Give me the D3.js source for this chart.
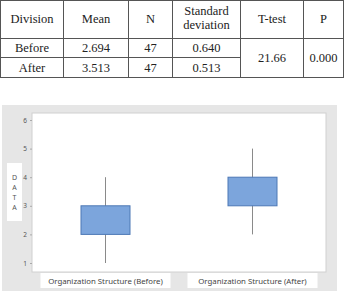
<!DOCTYPE html>
<html>
<head>
<meta charset="utf-8">
<script src="https://cdn.jsdelivr.net/npm/d3@7"></script>
<style>
  body { margin: 0; background: #fff; }
  svg { display: block; }
</style>
</head>
<body>
<div id="chart"></div>
<script>
// table data
const tableHeaders = [["Division"], ["Mean"], ["N"], ["Standard", "deviation"], ["T-test"], ["P"]];
const divisions = ["Before", "After"];
const means = ["2.694", "3.513"];
const counts = ["47", "47"];
const stdDevs = ["0.640", "0.513"];
const tTest = "21.66";
const pValue = "0.000";

// box plot data
const categories = ["Organization Structure (Before)", "Organization Structure (After)"];
const whiskerLow = [1, 2];
const boxLow = [2, 3];
const boxHigh = [3, 4];
const whiskerHigh = [4, 5];
const yTicks = [1, 2, 3, 4, 5, 6];

const serif = "'Liberation Serif', serif";
const sans = "'Noto Sans', 'Open Sans', sans-serif";

const width = 347, height = 293;
const svg = d3.select("#chart").append("svg")
    .attr("width", width)
    .attr("height", height);

// ---- table ----
const colX = [0.5, 63.5, 128.5, 172.5, 240.5, 303.5, 343.5];
const rowY = [0.5, 38.5, 57.5, 77.5];
const tbl = svg.append("g");

const lineColor = "#555";
tbl.append("rect")
    .attr("x", colX[0]).attr("y", rowY[0])
    .attr("width", colX[6] - colX[0]).attr("height", rowY[3] - rowY[0])
    .attr("fill", "none").attr("stroke", lineColor);
colX.slice(1, 6).forEach(x => {
    tbl.append("line").attr("x1", x).attr("x2", x)
        .attr("y1", rowY[0]).attr("y2", rowY[3]).attr("stroke", lineColor);
});
tbl.append("line").attr("x1", colX[0]).attr("x2", colX[6])
    .attr("y1", rowY[1]).attr("y2", rowY[1]).attr("stroke", lineColor);
// row separator stops at the merged T-test / P cells
tbl.append("line").attr("x1", colX[0]).attr("x2", colX[4])
    .attr("y1", rowY[2]).attr("y2", rowY[2]).attr("stroke", lineColor);

const cx = i => (colX[i] + colX[i + 1]) / 2;
const cell = (xx, yy, t) => tbl.append("text")
    .attr("x", xx).attr("y", yy)
    .attr("text-anchor", "middle")
    .style("font-family", serif)
    .style("font-size", "12.5px")
    .attr("fill", "#222")
    .text(t);

tableHeaders.forEach((h, i) => {
    h.forEach((t, j) => cell(cx(i), h.length === 1 ? 23 : 15 + j * 14, t));
});
const rows = divisions.map((d, i) => [d, means[i], counts[i], stdDevs[i]]);
rows.forEach((r, ri) => {
    r.forEach((t, ci) => cell(cx(ci), (rowY[ri + 1] + rowY[ri + 2]) / 2 + 4, t));
});
cell(cx(4), (rowY[1] + rowY[3]) / 2 + 4, tTest);
cell(cx(5), (rowY[1] + rowY[3]) / 2 + 4, pValue);

// ---- box plot ----
const panel = { left: 2, top: 105, right: 337, bottom: 291 };
const plot = { left: 32, top: 113, right: 326, bottom: 272 };

svg.append("rect")
    .attr("x", panel.left).attr("y", panel.top)
    .attr("width", panel.right - panel.left).attr("height", panel.bottom - panel.top)
    .attr("fill", "#e6e6e6");

svg.append("rect")
    .attr("x", plot.left).attr("y", plot.top)
    .attr("width", plot.right - plot.left).attr("height", plot.bottom - plot.top)
    .attr("fill", "#fff").attr("stroke", "#d0d0d0");

const x = d3.scaleBand()
    .domain(categories)
    .range([plot.left, plot.right])
    .padding(0);

const y = d3.scaleLinear()
    .domain([1, 6])
    .range([263, 120]);

const yAxis = d3.axisLeft(y).tickValues(yTicks).tickSize(2).tickPadding(3).tickFormat(d3.format("d"));
const yg = svg.append("g")
    .attr("transform", `translate(${plot.left},0)`)
    .call(yAxis);
yg.select(".domain").remove();
yg.selectAll(".tick line").attr("stroke", "#aaa");
yg.selectAll(".tick text")
    .style("font-family", sans)
    .style("font-size", "6.5px")
    .attr("fill", "#555");

// DATA label
svg.append("rect")
    .attr("x", 7).attr("y", 163).attr("width", 15).attr("height", 58)
    .attr("fill", "#fff");
["D", "A", "T", "A"].forEach((c, i) => {
    svg.append("text")
        .attr("x", 14.5).attr("y", 180 + i * 10)
        .attr("text-anchor", "middle")
        .style("font-family", sans)
        .style("font-size", "7px")
        .attr("fill", "#555")
        .text(c);
});

const boxW = x.bandwidth() / 3;
const groups = svg.selectAll(".box")
    .data(categories.map((c, i) => ({ c, wl: whiskerLow[i], bl: boxLow[i], bh: boxHigh[i], wh: whiskerHigh[i] })))
    .enter().append("g");

groups.append("line")
    .attr("x1", d => x(d.c) + x.bandwidth() / 2)
    .attr("x2", d => x(d.c) + x.bandwidth() / 2)
    .attr("y1", d => y(d.wl))
    .attr("y2", d => y(d.wh))
    .attr("stroke", "#8a8a8a")
    .attr("stroke-width", 1);

groups.append("rect")
    .attr("x", d => x(d.c) + x.bandwidth() / 2 - boxW / 2)
    .attr("y", d => y(d.bh))
    .attr("width", boxW)
    .attr("height", d => y(d.bl) - y(d.bh))
    .attr("fill", "#7ca5dc")
    .attr("stroke", "#4d78b5")
    .attr("stroke-width", 1);

// category labels
const labW = 130;
categories.forEach(c => {
    const mid = x(c) + x.bandwidth() / 2;
    svg.append("rect")
        .attr("x", mid - labW / 2).attr("y", 273)
        .attr("width", labW).attr("height", 15)
        .attr("fill", "#fff");
    svg.append("text")
        .attr("x", mid).attr("y", 283.5)
        .attr("text-anchor", "middle")
        .style("font-family", sans)
        .style("font-size", "7.8px")
        .attr("fill", "#444")
        .text(c);
});
</script>
</body>
</html>
